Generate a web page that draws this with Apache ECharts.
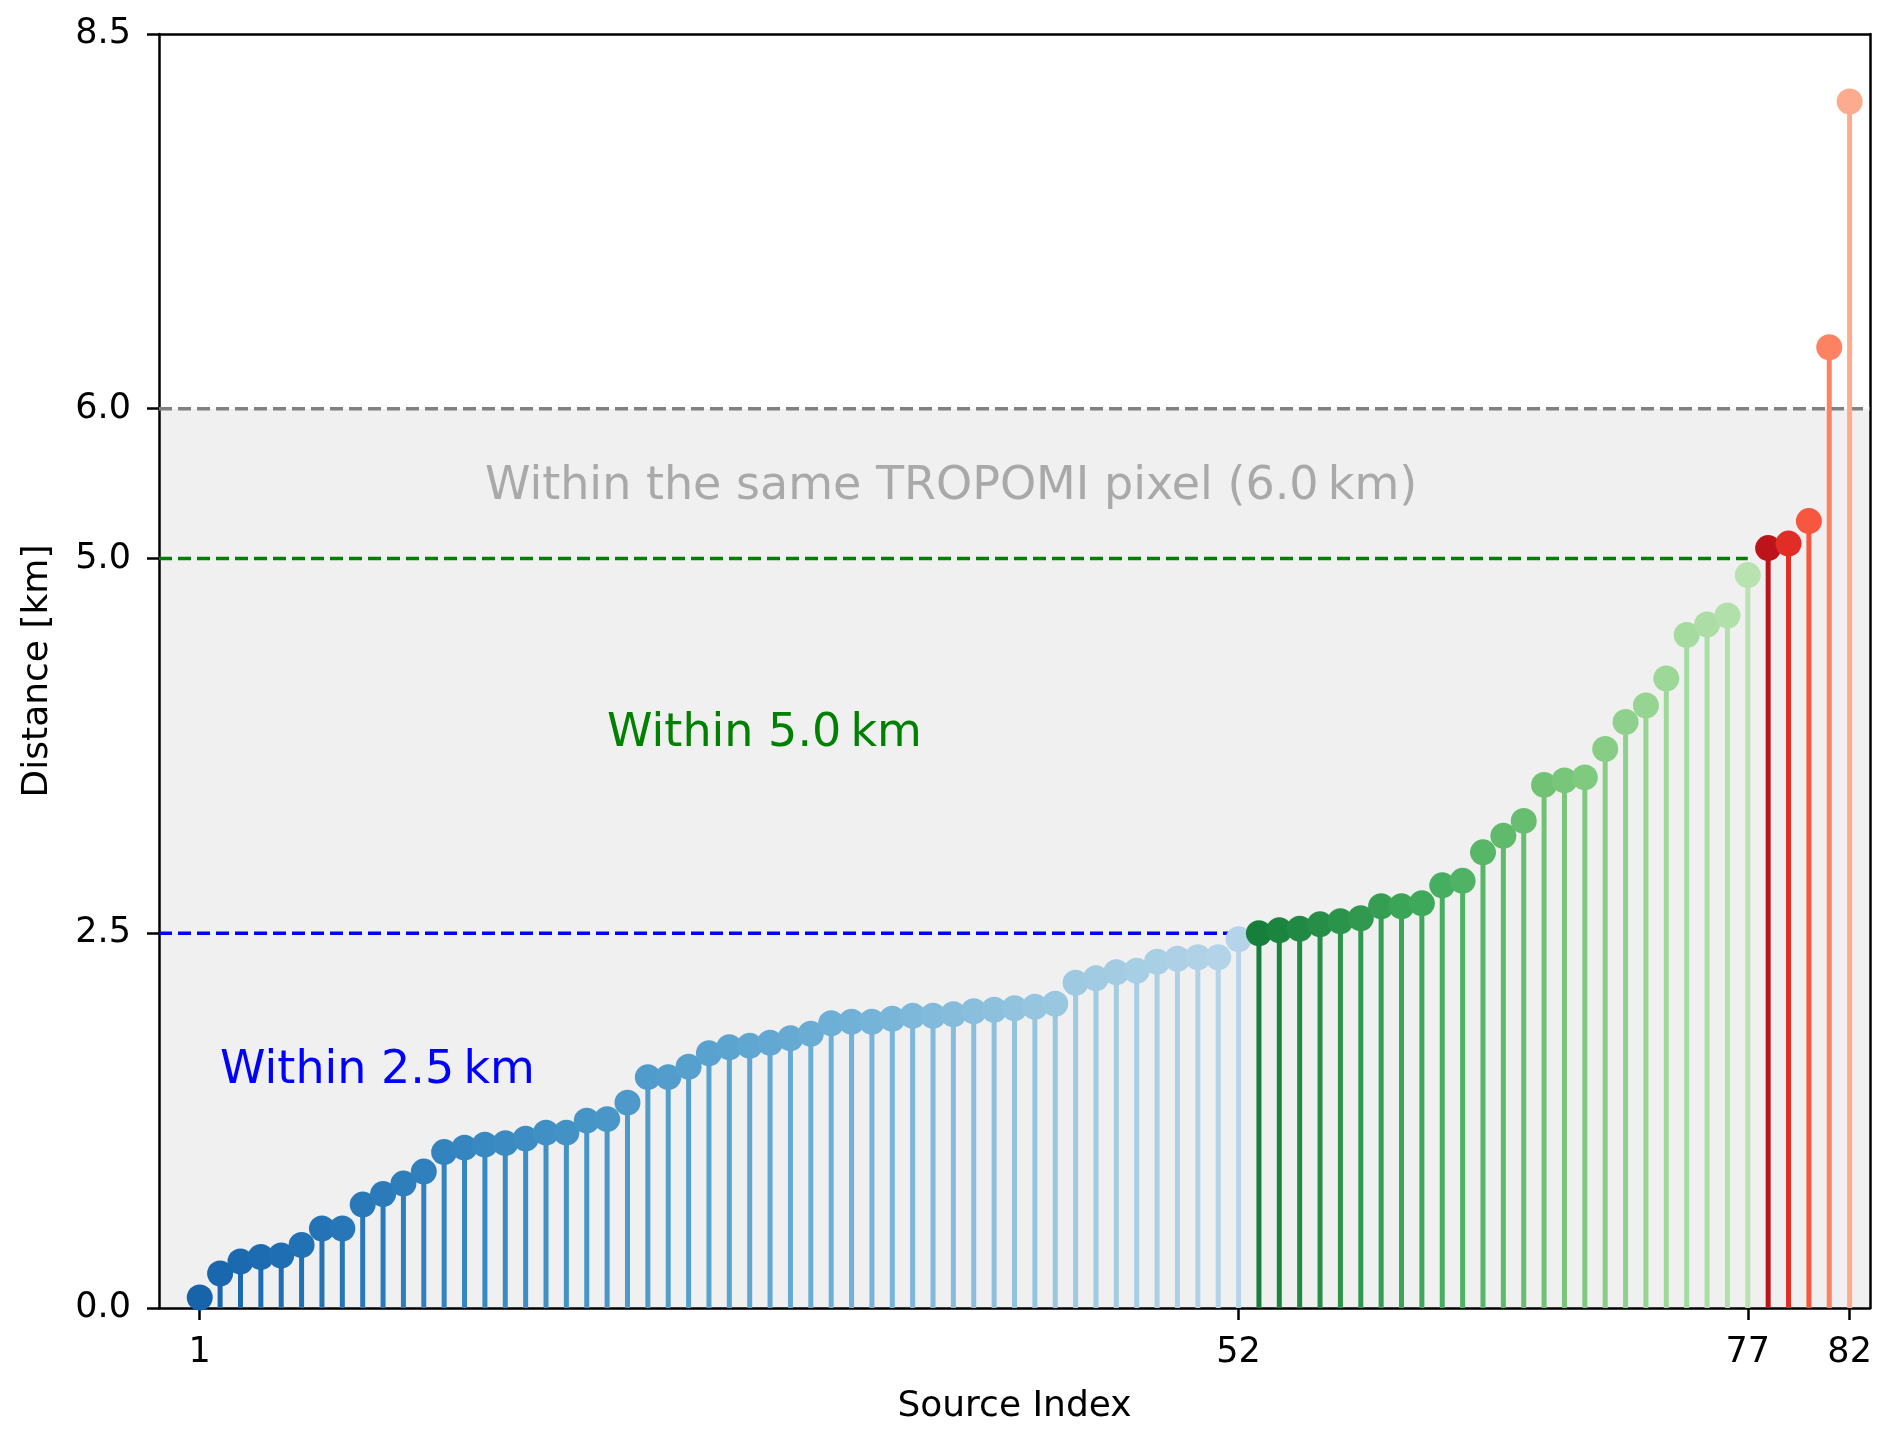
<!DOCTYPE html>
<html>
<head>
<meta charset="utf-8">
<script src="https://cdn.jsdelivr.net/npm/echarts@6/dist/echarts.min.js"></script>
<style>
  html, body { margin: 0; padding: 0; background: #fff; }
  #chart { width: 1892px; height: 1436px; }
</style>
</head>
<body>
<div id="chart"></div>
<script>
// sorted source distances [km], split by group (index runs 1..82 across the three)
const blueDist = [0.07, 0.23, 0.31, 0.34, 0.35, 0.42, 0.53, 0.53, 0.69, 0.76,
  0.83, 0.91, 1.04, 1.07, 1.09, 1.10, 1.13, 1.17, 1.17, 1.25,
  1.26, 1.37, 1.54, 1.54, 1.61, 1.70, 1.74, 1.75, 1.77, 1.80,
  1.83, 1.90, 1.91, 1.91, 1.93, 1.95, 1.95, 1.96, 1.98, 1.99,
  2.00, 2.01, 2.03, 2.17, 2.20, 2.24, 2.25, 2.31, 2.33, 2.34,
  2.34, 2.46];
const greenDist = [2.50, 2.52, 2.53, 2.56, 2.58, 2.60, 2.68, 2.68, 2.70, 2.82,
  2.85, 3.04, 3.15, 3.25, 3.49, 3.52, 3.54, 3.73, 3.91, 4.02,
  4.20, 4.49, 4.56, 4.62, 4.89];
const redDist = [5.07, 5.10, 5.25, 6.41, 8.05];

const xTicks = [1, 52, 77, 82];
const yTicks = [0, 2.5, 5.0, 6.0, 8.5];

const pixelLimit = 6.0;   // same TROPOMI pixel
const nearLimit = 5.0;
const closeLimit = 2.5;
const nearLastIdx = 77;
const closeLastIdx = 52;

// matplotlib colormap anchors
const BLUES = ['#f7fbff', '#deebf7', '#c6dbef', '#9ecae1', '#6baed6', '#4292c6', '#2171b5', '#08519c', '#08306b'];
const GREENS = ['#f7fcf5', '#e5f5e0', '#c7e9c0', '#a1d99b', '#74c476', '#41ab5d', '#238b45', '#006d2c', '#00441b'];
const REDS = ['#fff5f0', '#fee0d2', '#fcbba1', '#fc9272', '#fb6a4a', '#ef3b2c', '#cb181d', '#a50f15', '#67000d'];

function hexRgb(h) {
  return [1, 3, 5].map(i => parseInt(h.slice(i, i + 2), 16));
}
function cmap(stops, t) {
  const pos = t * (stops.length - 1);
  const i = Math.min(Math.floor(pos), stops.length - 2);
  const f = pos - i;
  const a = hexRgb(stops[i]), b = hexRgb(stops[i + 1]);
  const c = a.map((v, k) => Math.round(v + (b[k] - v) * f));
  return `rgb(${c[0]},${c[1]},${c[2]})`;
}
function shades(stops, n) {
  const out = [];
  for (let i = 0; i < n; i++) {
    const t = n === 1 ? 0.8 : 0.8 - 0.5 * i / (n - 1);
    out.push(cmap(stops, t));
  }
  return out;
}

const points = [];
[[blueDist, BLUES], [greenDist, GREENS], [redDist, REDS]].forEach(([arr, stops]) => {
  const cols = shades(stops, arr.length);
  arr.forEach((d, i) => {
    points.push({ value: [points.length + 1, d], itemStyle: { color: cols[i], opacity: 1 } });
  });
});

const FONT = 'DejaVu Sans';
const X_MIN = -1, X_MAX = 83;

// reference lines: [x from, x to, y]
const refLines = [
  [X_MIN, X_MAX, pixelLimit],
  [X_MIN, nearLastIdx, nearLimit],
  [X_MIN, closeLastIdx, closeLimit]
];
const refColors = ['#808080', '#008000', '#0000ff'];

const spine = { show: true, onZero: false, lineStyle: { color: '#000', width: 2.5 } };
const hidden = { show: false };

const chart = echarts.init(document.getElementById('chart'));
const option = {
  animation: false,
  backgroundColor: '#fff',
  grid: { left: 159, right: 22, top: 34, bottom: 128 },
  xAxis: [{
    type: 'value', min: X_MIN, max: X_MAX,
    name: 'Source Index', nameLocation: 'middle', nameGap: 81,
    nameTextStyle: { fontFamily: FONT, fontSize: 36, color: '#000' },
    axisLine: spine,
    axisTick: { show: true, length: 12, customValues: xTicks, lineStyle: { color: '#000', width: 2.5 } },
    axisLabel: { customValues: xTicks, fontFamily: FONT, fontSize: 35, color: '#000', margin: 27 },
    splitLine: hidden
  }, {
    type: 'value', min: X_MIN, max: X_MAX, position: 'top',
    axisLine: spine, axisTick: hidden, axisLabel: hidden, splitLine: hidden
  }],
  yAxis: [{
    type: 'value', min: 0, max: 8.5,
    name: 'Distance [km]', nameLocation: 'middle', nameGap: 103,
    nameTextStyle: { fontFamily: FONT, fontSize: 36, color: '#000' },
    axisLine: spine,
    axisTick: { show: true, length: 12, customValues: yTicks, lineStyle: { color: '#000', width: 2.5 } },
    axisLabel: {
      customValues: yTicks, fontFamily: FONT, fontSize: 35, color: '#000', margin: 28,
      formatter: v => v.toFixed(1)
    },
    splitLine: hidden
  }, {
    type: 'value', min: 0, max: 8.5, position: 'right',
    axisLine: spine, axisTick: hidden, axisLabel: hidden, splitLine: hidden
  }],
  series: [
    {
      // shaded "same pixel" band
      type: 'custom', z: 0, silent: true,
      data: [[X_MIN, 0, X_MAX, pixelLimit]],
      renderItem: (params, api) => {
        const a = api.coord([api.value(0), api.value(1)]);
        const b = api.coord([api.value(2), api.value(3)]);
        return {
          type: 'rect',
          shape: { x: a[0], y: b[1], width: b[0] - a[0], height: a[1] - b[1] },
          style: { fill: '#f0f0f0' }
        };
      }
    },
    {
      type: 'custom', z: 1, silent: true,
      data: refLines,
      renderItem: (params, api) => {
        const a = api.coord([api.value(0), api.value(2)]);
        const b = api.coord([api.value(1), api.value(2)]);
        return {
          type: 'line',
          shape: { x1: a[0], y1: a[1], x2: b[0], y2: b[1] },
          style: { stroke: refColors[params.dataIndex], lineWidth: 3.5, lineDash: [13, 6] }
        };
      }
    },
    {
      type: 'custom', z: 2, silent: true,
      data: points,
      renderItem: (params, api) => {
        const x = api.value(0), y = api.value(1);
        const p0 = api.coord([x, 0]);
        const p1 = api.coord([x, y]);
        return {
          type: 'line',
          shape: { x1: p0[0], y1: p0[1], x2: p1[0], y2: p1[1] },
          style: { stroke: points[params.dataIndex].itemStyle.color, lineWidth: 5 }
        };
      }
    },
    {
      type: 'scatter', z: 3, symbol: 'circle', symbolSize: 26,
      itemStyle: { opacity: 1 },
      data: points
    }
  ]
};
chart.setOption(option);

// annotation texts anchored in data coordinates
const notes = [
  { text: 'Within the same TROPOMI pixel (6.0\u2009km)', at: [15, 5.48], color: '#a9a9a9' },
  { text: 'Within 5.0\u2009km', at: [21, 3.83], color: '#008000' },
  { text: 'Within 2.5\u2009km', at: [2, 1.58], color: '#0000ff' }
];
chart.setOption({
  graphic: notes.map(n => {
    const p = chart.convertToPixel({ gridIndex: 0 }, n.at);
    return {
      type: 'text', x: p[0], y: p[1], z: 10, silent: true,
      style: { text: n.text, fill: n.color, font: `46px "${FONT}"`, textAlign: 'left', textVerticalAlign: 'middle' }
    };
  })
});
</script>
</body>
</html>
